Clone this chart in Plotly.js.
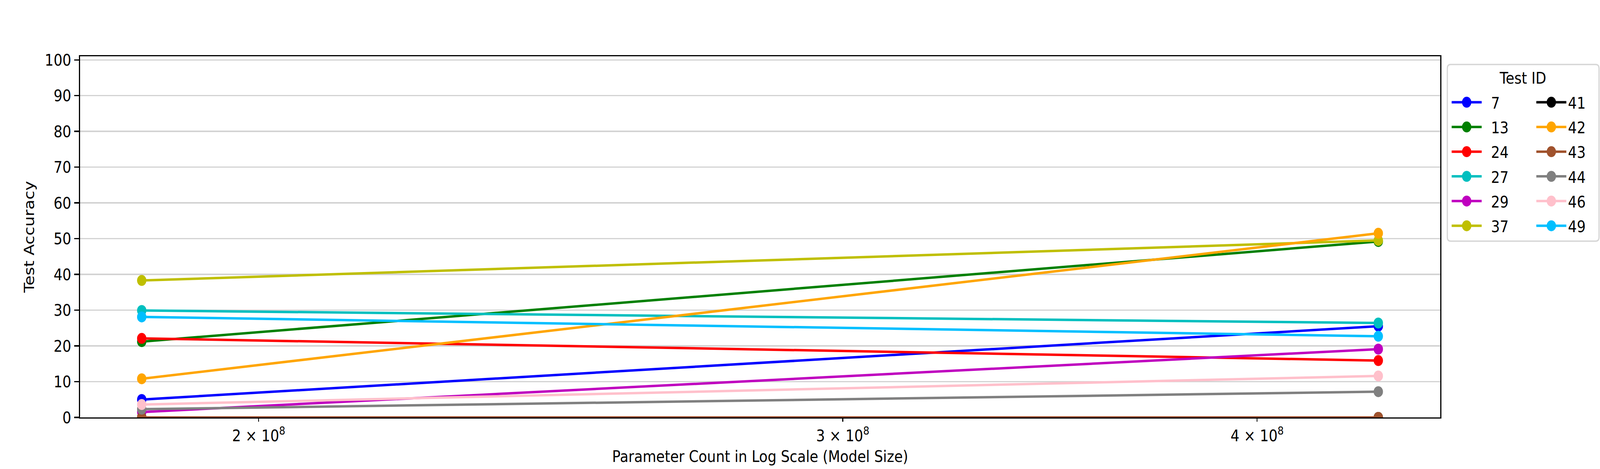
<!DOCTYPE html>
<html>
<head>
<meta charset="utf-8">
<script src="https://cdn.plot.ly/plotly-3.0.1.min.js"></script>
<style>
  html, body { margin: 0; padding: 0; background: #fff; overflow: hidden; }
  #chart { transform-origin: 0 0; }
</style>
</head>
<body>
<div id="chart" style="width:4800px;height:1200px;"></div>
<script>
// model sizes (parameter count) and test accuracy per test id
var paramCounts = [184.4e6, 435.1e6];
var testIds = ['7', '13', '24', '27', '29', '37', '41', '42', '43', '44', '46', '49'];
var accSmall = [5.0, 21.2, 22.1, 29.9, 1.5, 38.3, 0, 10.8, 0, 2.3, 3.6, 28.1];
var accLarge = [25.5, 49.2, 15.9, 26.4, 19.1, 49.5, 0, 51.5, 0, 7.2, 11.6, 22.7];
var colors = ['#0000ff', '#008000', '#ff0000', '#00bfbf', '#bf00bf', '#bfbf00',
              '#000000', '#ffa500', '#a0522d', '#808080', '#ffc0cb', '#00bfff'];
var xTickVals = [2e8, 3e8, 4e8];
var xTickText = ['2 × 10<sup>8</sup>', '3 × 10<sup>8</sup>', '4 × 10<sup>8</sup>'];

var FONT = 'DejaVu Sans';
var FS = 41.7;

// plot area in pixels
var L = 240, R = 4321, T = 144, B = 1068;
function px(x) { return (x - L) / (R - L); }
function py(y) { return (B - y) / (B - T); }

function roundedBox(x0, y0, x1, y1, r) {
  // path in paper units, corners in pixels
  var rx = r / (R - L), ry = r / (B - T);
  var a = px(x0), b = px(x1), c = py(y1), d = py(y0);
  return 'M' + (a + rx) + ',' + d +
    ' L' + (b - rx) + ',' + d + ' Q' + b + ',' + d + ' ' + b + ',' + (d - ry) +
    ' L' + b + ',' + (c + ry) + ' Q' + b + ',' + c + ' ' + (b - rx) + ',' + c +
    ' L' + (a + rx) + ',' + c + ' Q' + a + ',' + c + ' ' + a + ',' + (c + ry) +
    ' L' + a + ',' + (d - ry) + ' Q' + a + ',' + d + ' ' + (a + rx) + ',' + d + ' Z';
}

var data = testIds.map(function(id, i) {
  return {
    name: id,
    x: paramCounts,
    y: [accSmall[i], accLarge[i]],
    mode: 'lines+markers',
    type: 'scatter',
    legend: i < 6 ? 'legend' : 'legend2',
    legendgroup: 'g' + id,
    line: { color: colors[i], width: 6.25 },
    marker: { color: colors[i], size: 28 },
  };
});

var legendCommon = {
  orientation: 'v',
  xref: 'container',
  yref: 'container',
  xanchor: 'left',
  yanchor: 'top',
  bgcolor: 'rgba(0,0,0,0)',
  borderwidth: 0,
  itemwidth: 90,
  tracegroupgap: 6,
  font: { family: FONT, size: FS, color: '#000' },
};

var layout = {
  width: 4800,
  height: 1200,
  margin: { l: L, r: 4800 - R, t: T, b: 1200 - B },
  paper_bgcolor: '#fff',
  plot_bgcolor: '#fff',
  font: { family: FONT, size: FS, color: '#000' },
  showlegend: true,
  legend: Object.assign({}, legendCommon, { x: 4350 / 4800, y: 1 - 228 / 1200 }),
  legend2: Object.assign({}, legendCommon, { x: 4604 / 4800, y: 1 - 228 / 1200 }),
  xaxis: {
    type: 'log',
    range: [8.24715, 8.65729],
    autorange: false,
    tickvals: xTickVals,
    ticktext: xTickText,
    ticks: 'outside',
    ticklen: 8,
    tickwidth: 2.5,
    tickcolor: '#000',
    showgrid: false,
    zeroline: false,
    showline: true,
    mirror: true,
    linecolor: '#000',
    linewidth: 3.3,
    tickfont: { family: FONT, size: FS, color: '#000' },
    title: { text: 'Parameter Count in Log Scale (Model Size)', font: { family: FONT, size: FS, color: '#000' }, standoff: 15 },
  },
  yaxis: {
    range: [0, 101],
    autorange: false,
    tick0: 0,
    dtick: 10,
    ticks: 'outside',
    ticklen: 14.6,
    tickwidth: 3.3,
    tickcolor: '#000',
    showgrid: true,
    gridcolor: '#d3d3d3',
    gridwidth: 3.3,
    zeroline: false,
    showline: true,
    mirror: true,
    linecolor: '#000',
    linewidth: 3.3,
    tickfont: { family: FONT, size: FS, color: '#000' },
    title: { text: 'Test Accuracy', font: { family: FONT, size: FS, color: '#000' }, standoff: 19 },
  },
  shapes: [
    {
      type: 'path',
      xref: 'paper',
      yref: 'paper',
      path: roundedBox(4342, 165, 4797, 617, 10),
      line: { color: '#d6d6d6', width: 3.5 },
      fillcolor: 'rgba(255,255,255,0.8)',
      layer: 'below',
    },
  ],
  annotations: [
    {
      text: 'Test ID',
      xref: 'paper',
      yref: 'paper',
      x: px(4568),
      y: py(200),
      xanchor: 'center',
      yanchor: 'middle',
      showarrow: false,
      font: { family: FONT, size: FS, color: '#000' },
    },
  ],
};

Plotly.newPlot('chart', data, layout, { displayModeBar: false, staticPlot: true }).then(function(gd) {
  // legend symbols are capped in size by plotly, bring them up to the plot's marker / line size
  gd.querySelectorAll('.scrollbox').forEach(function(g) {
    g.removeAttribute('clip-path');
  });
  gd.querySelectorAll('.legendpoints .scatterpts').forEach(function(p) {
    p.setAttribute('transform', (p.getAttribute('transform') || '') + ' scale(1.75)');
  });
  gd.querySelectorAll('.legendlines path').forEach(function(p) {
    p.style.strokeWidth = '6.25px';
  });
  gd.querySelectorAll('text.legendtext').forEach(function(t) {
    t.setAttribute('x', (+t.getAttribute('x') || 0) + 23);
  });

  // the browser window may be narrower than 4800px: fit the whole figure into it
  var sx = Math.min(1, window.innerWidth / 4800);
  var sy = Math.min(1, window.innerHeight / 1200);
  gd.style.transform = 'scale(' + sx + ',' + sy + ')';
});
</script>
</body>
</html>
